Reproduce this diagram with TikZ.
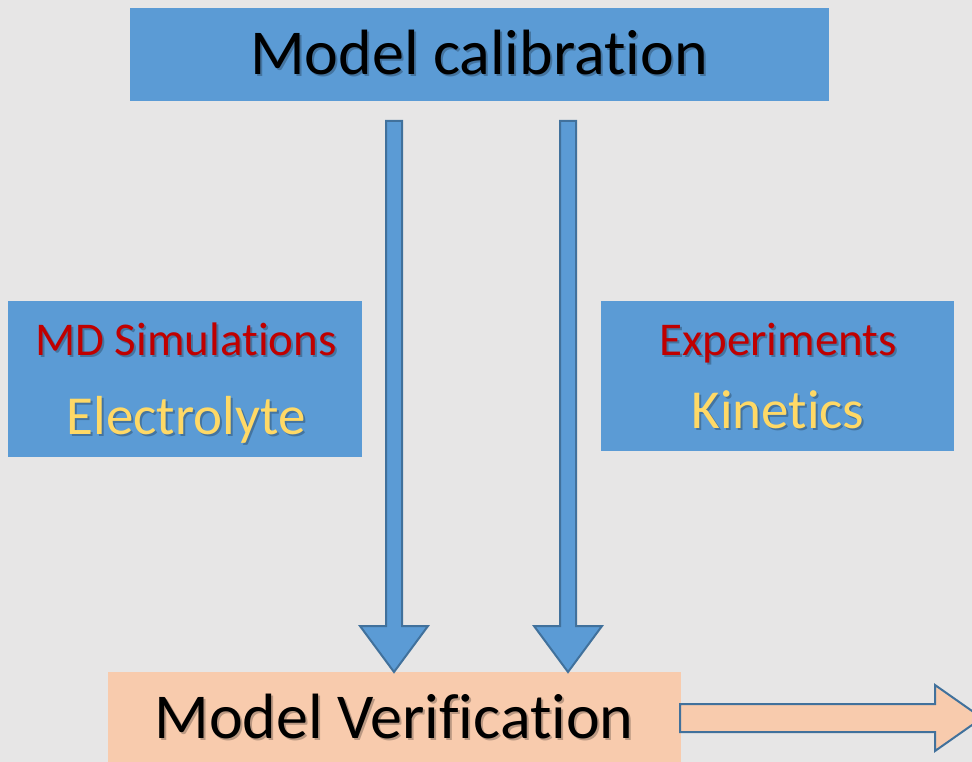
\documentclass[tikz,border=0pt]{standalone}
\usepackage{fontspec}
\setmainfont{Carlito}[RawFeature={-liga;-clig}]
\definecolor{bg}{HTML}{E7E6E6}
\definecolor{boxblue}{HTML}{5B9BD5}
\definecolor{edgeblue}{HTML}{41719C}
\definecolor{peach}{HTML}{F8CBAD}
\definecolor{darkred}{HTML}{C00000}
\definecolor{gold}{HTML}{FFD966}
% #1 shadow colour, #2 text
\newcommand{\shtxt}[2]{\makebox[0pt][l]{\kern2pt\raisebox{-2pt}{\textcolor{#1}{#2}}}#2}
\begin{document}
\begin{tikzpicture}[x=1pt,y=-1pt,
  bluebox/.style={fill=boxblue, draw=none},
  peachbox/.style={fill=peach, draw=none},
  bigarrow/.style={fill=boxblue, draw=edgeblue, line width=2pt, line join=miter},
  flatarrow/.style={fill=peach, draw=edgeblue, line width=2pt, line join=miter},
  lbl/.style={anchor=base, inner sep=0pt}]
\useasboundingbox (0,0) rectangle (972,762);
\begin{scope}
\clip (0,0) rectangle (972,762);
\fill[bg] (0,0) rectangle (972,762);
% boxes
\fill[bluebox] (130,8) rectangle (829,101);
\fill[bluebox] (8,301) rectangle (362,457);
\fill[bluebox] (601,301) rectangle (954,451);
\fill[peachbox] (108,672) rectangle (681,770);
% down arrows
\draw[bigarrow] (386,121) -- (402,121) -- (402,626) -- (428,626) -- (394,672) -- (360,626) -- (386,626) -- cycle;
\draw[bigarrow] (560,121) -- (576,121) -- (576,626) -- (602,626) -- (568,672) -- (534,626) -- (560,626) -- cycle;
% right arrow
\draw[flatarrow] (680,704) -- (935,704) -- (935,685) -- (982,718) -- (935,751) -- (935,732) -- (680,732) -- cycle;
% texts
\node[lbl, font=\fontsize{64}{70}\selectfont] (tcalib) at (479,75) {\shtxt{boxblue!75!black}{Model calibration}};
\node[lbl, text=darkred, font=\fontsize{47}{52}\selectfont] (tmd) at (186,355) {\shtxt{boxblue!75!black}{MD Simulations}};
\node[lbl, text=gold, font=\fontsize{55}{60}\selectfont] (telec) at (186,434) {\shtxt{boxblue!75!black}{Electrolyte}};
\node[lbl, text=darkred, font=\fontsize{47}{52}\selectfont] (texp) at (778,355) {\shtxt{boxblue!75!black}{Experiments}};
\node[lbl, text=gold, font=\fontsize{55}{60}\selectfont] (tkin) at (778,428) {\shtxt{boxblue!75!black}{Kinetics}};
\node[lbl, font=\fontsize{64}{70}\selectfont] (tverif) at (394,738) {\shtxt{peach!75!black}{Model Verification}};
\end{scope}
\end{tikzpicture}
\end{document}
